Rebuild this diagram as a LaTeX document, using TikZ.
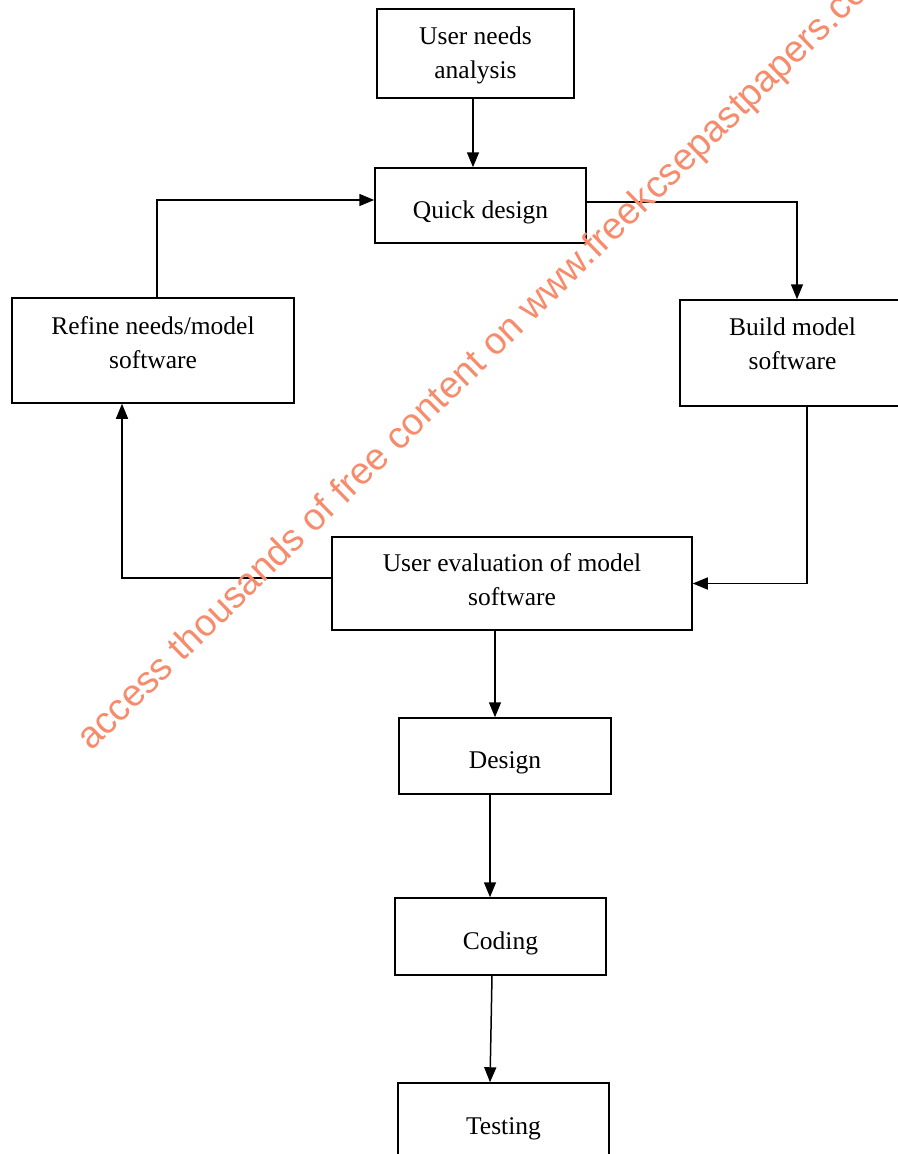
\documentclass[tikz,border=0pt]{standalone}
\usepackage{fontspec}
\setmainfont{Liberation Serif}
\newfontfamily\wmfont{Liberation Sans}
\usetikzlibrary{arrows.meta}
\definecolor{wmcol}{RGB}{246,140,108}
\begin{document}
\begin{tikzpicture}[x=1pt,y=-1pt,
  box/.style={draw,line width=1.5pt,rectangle,inner sep=0pt},
  txt/.style={align=center,inner sep=0pt,font=\fontsize{25.5}{34}\selectfont},
  arr/.style={line width=1.5pt,-{Triangle[length=15pt,width=12pt]}}]
\useasboundingbox (0,0) rectangle (897,1154);
\node[box,minimum width=197pt,minimum height=89pt] (una) at (475.5,53.5) {};
\node[box,minimum width=211pt,minimum height=75pt] (qd) at (480.5,205.5) {};
\node[box,minimum width=282pt,minimum height=105pt] (ref) at (153,350.5) {};
\node[box,minimum width=225pt,minimum height=106pt] (bld) at (792.5,353) {};
\node[box,minimum width=360pt,minimum height=93pt] (ev) at (512,583.5) {};
\node[box,minimum width=212pt,minimum height=76pt] (des) at (505,756) {};
\node[box,minimum width=211pt,minimum height=77pt] (cod) at (500.5,936.5) {};
\node[box,minimum width=211pt,minimum height=87pt] (tst) at (503.5,1126.5) {};
\node[txt] (unat) at ([yshift=-2pt]una.center) {User needs\\analysis};
\node[txt] (qdt) at ([yshift=-6.5pt]qd.center) {Quick design};
\node[txt] (reft) at ([yshift=8pt]ref.center) {Refine needs/model\\software};
\node[txt] (bldt) at ([yshift=9pt]bld.center) {Build model\\software};
\node[txt] (evt) at ([yshift=3.5pt]ev.center) {User evaluation of model\\software};
\node[txt] (dest) at ([yshift=-7pt]des.center) {Design};
\node[txt] (codt) at ([yshift=-7pt]cod.center) {Coding};
\node[txt] (tstt) at ([yshift=-2pt]tst.center) {Testing};
\draw[arr] ([xshift=-2.5pt]una.south) -- ([xshift=-2.5pt]una.south |- qd.north);
\draw[arr] ([xshift=4pt]ref.north) |- ([yshift=5.5pt]qd.west);
\draw[arr] ([yshift=3.5pt]qd.east) -| ([xshift=4.5pt]bld.north);
\draw[arr] ([xshift=14.5pt]bld.south) |- (ev.east);
\draw[arr] ([yshift=5.5pt]ev.west) -| ([xshift=-31pt]ref.south);
\draw[arr] ([xshift=-17pt]ev.south) -- ([xshift=-17pt]ev.south |- des.north);
\draw[arr] ([xshift=-15pt]des.south) -- ([xshift=-15pt]des.south |- cod.north);
\draw[arr] ([xshift=-8.5pt]cod.south) -- ([xshift=-13.5pt]tst.north);
\node[anchor=base west,rotate=44.2,inner sep=0pt,text=wmcol,
  font=\wmfont\fontsize{37.7}{40}\selectfont] (wm) at (91,752)
  {access thousands of free content on www.freekcsepastpapers.com};
\end{tikzpicture}
\end{document}
